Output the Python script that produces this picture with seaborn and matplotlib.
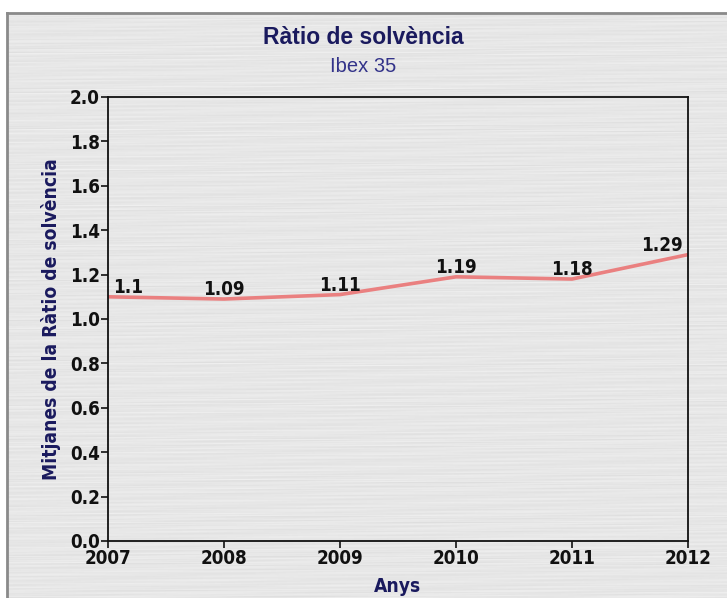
import numpy as np
import pandas as pd
import matplotlib
matplotlib.use("Agg")
import matplotlib.pyplot as plt
from matplotlib import font_manager
from matplotlib.font_manager import FontProperties
import seaborn as sns

years = [2007, 2008, 2009, 2010, 2011, 2012]
ratio = [1.10, 1.09, 1.11, 1.19, 1.18, 1.29]
labels = ["1.1", "1.09", "1.11", "1.19", "1.18", "1.29"]
yticks = [0.0, 0.2, 0.4, 0.6, 0.8, 1.0, 1.2, 1.4, 1.6, 1.8, 2.0]

df = pd.DataFrame({"Anys": years, "Ratio": ratio})

sns.set_theme(style="white")
plt.rcParams["font.family"] = ["Liberation Sans", "DejaVu Sans"]


def condensed_bold(size):
    """Condensed bold face for tick and value labels, with fallbacks."""
    for f in font_manager.fontManager.ttflist:
        if "DejaVuSansCondensed-Bold.ttf" in f.fname:
            return FontProperties(fname=f.fname, size=size)
    for f in font_manager.fontManager.ttflist:
        if f.name == "Liberation Sans Narrow" and f.weight in (700, "bold"):
            return FontProperties(fname=f.fname, size=size * 1.05)
    return FontProperties(family="DejaVu Sans", weight="bold", size=size * 0.9)


tick_fp = condensed_bold(13.5)
label_fp = condensed_bold(13.8)

navy = "#1a1a5e"
W, H = 727, 598
fig = plt.figure(figsize=(W / 100, H / 100), dpi=100)
fig.patch.set_facecolor("white")

# brushed-metal panel behind the chart
bg = fig.add_axes([7 / W, 0, 1 - 7 / W, 1 - 13 / H], zorder=-10)
rows = np.arange(600)[:, None]
cols = np.arange(720)[None, :]
tex = (0.905
       + 0.018 * np.sin(rows * 1.7) * np.cos(cols / 97.0 + rows * 0.31)
       + 0.012 * np.sin(rows * 0.53 + np.sin(cols / 41.0 + rows) * 2.0)
       + 0.010 * np.cos(rows * 2.9 + cols / 150.0))
tex = np.clip(tex, 0, 1)
bg.imshow(tex, cmap="gray", vmin=0, vmax=1, aspect="auto", interpolation="bilinear")
bg.set_xticks([]); bg.set_yticks([])
for side in ["right", "bottom"]:
    bg.spines[side].set_visible(False)
for side in ["left", "top"]:
    bg.spines[side].set_color("#8a8a8a")
    bg.spines[side].set_linewidth(2)

ax = fig.add_axes([108 / W, 1 - 541 / H, (688 - 108) / W, (541 - 97) / H])
ax.patch.set_alpha(0)

sns.lineplot(data=df, x="Anys", y="Ratio", ax=ax, color="#ea8080", linewidth=2.6)

ax.set_xlim(2007, 2012)
ax.set_ylim(0, 2.0)
ax.set_xticks(years)
ax.set_yticks(yticks)
ax.set_xticklabels([str(y) for y in years], fontproperties=tick_fp)
ax.set_yticklabels([f"{v:.1f}" for v in yticks], fontproperties=tick_fp)
ax.tick_params(axis="both", direction="out", length=5, width=1.2, color="#111111",
               labelcolor="#111111", pad=1, bottom=True, left=True)
for s in ax.spines.values():
    s.set_color("#111111")
    s.set_linewidth(1.3)

ax.set_xlabel("Anys", fontproperties=label_fp, color=navy, labelpad=6)
ax.set_ylabel("Mitjanes de la Ràtio de solvència", fontproperties=label_fp,
              color=navy, labelpad=6)

for i, (x, y, t) in enumerate(zip(years, ratio, labels)):
    if i == 0:
        ha, dx = "left", 4
    elif i == len(years) - 1:
        ha, dx = "right", -4
    else:
        ha, dx = "center", 0
    ax.annotate(t, (x, y), xytext=(dx, 0), textcoords="offset points", ha=ha, va="bottom",
                fontproperties=tick_fp, color="#111111")

fig.text(0.5, 1 - 37.5 / H, "Ràtio de solvència", ha="center", va="center",
         fontsize=16.5, fontweight="bold", color=navy)
fig.text(0.5, 1 - 66 / H, "Ibex 35", ha="center", va="center",
         fontsize=14.5, color="#33338a")

fig.savefig("out.png", dpi=100, facecolor=fig.get_facecolor())
